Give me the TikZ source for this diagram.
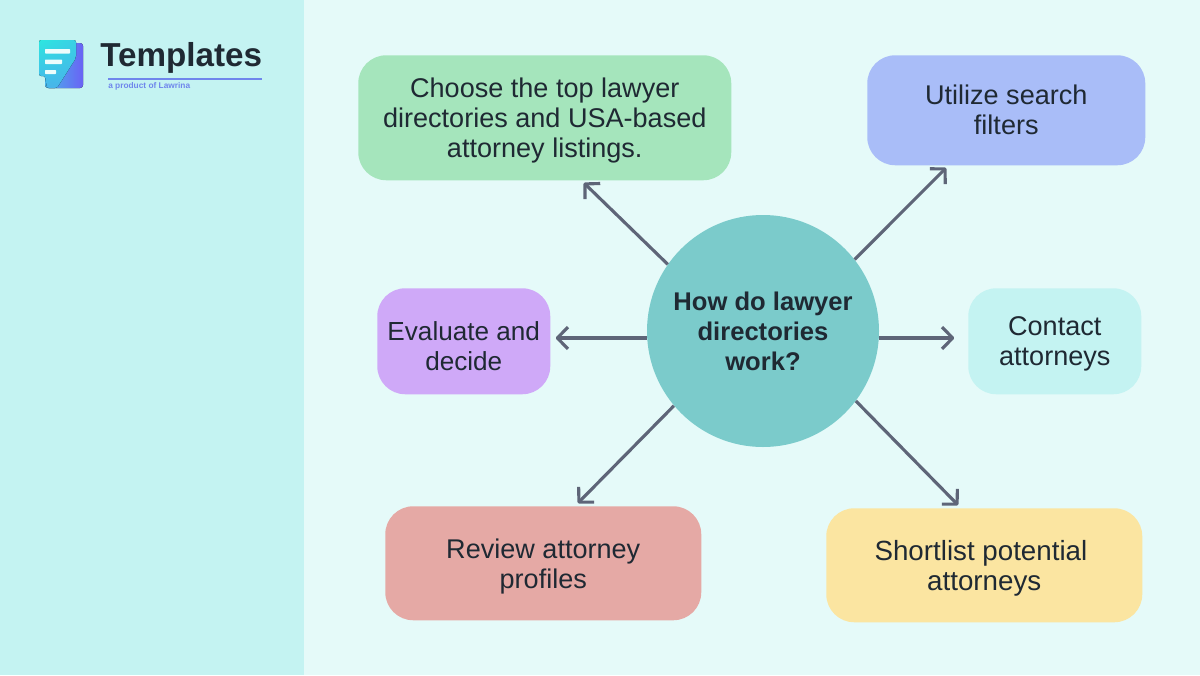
\documentclass[tikz,border=0pt]{standalone}
\usepackage{fontspec}
\setmainfont{Liberation Sans}
\usetikzlibrary{arrows.meta,shadings}
\definecolor{pagebg}{HTML}{E5FAF9}
\definecolor{sidebg}{HTML}{C4F3F2}
\definecolor{ink}{HTML}{1F2933}
\definecolor{arrowc}{HTML}{5E6578}
\definecolor{hubc}{HTML}{7BCBCB}
\definecolor{greenb}{HTML}{A5E5BC}
\definecolor{blueb}{HTML}{A9BDF8}
\definecolor{purpleb}{HTML}{CFA9F8}
\definecolor{redb}{HTML}{E5A9A5}
\definecolor{yellowb}{HTML}{FBE5A1}
\definecolor{logoa}{HTML}{2DE6E0}
\definecolor{logom}{HTML}{48B4EA}
\definecolor{logob}{HTML}{6A62F5}
\definecolor{logoline}{HTML}{6F86EC}
\pgfdeclarearrow{
  name=Chev,
  setup code={
    \pgfarrowssettipend{1pt}
    \pgfarrowssetlineend{-1pt}
    \pgfarrowssetvisualbackend{-8pt}
    \pgfarrowssetbackend{-8pt}
    \pgfarrowshullpoint{1pt}{0pt}
    \pgfarrowsupperhullpoint{-8pt}{8pt}
  },
  drawing code={
    \pgfsetdash{}{0pt}
    \pgfsetroundjoin
    \pgfsetbuttcap
    \pgfpathmoveto{\pgfpoint{-8pt}{8.2pt}}
    \pgfpathlineto{\pgfpoint{0pt}{0pt}}
    \pgfpathlineto{\pgfpoint{-8pt}{-8.2pt}}
    \pgfusepathqstroke
  },
  defaults={}
}
\tikzset{
  x=0.75pt,y=-0.75pt,
  card/.style={rounded corners=21pt,inner sep=0pt,align=center,text=ink,font=\fontsize{20.3}{22.5}\selectfont,anchor=north west},
  flow/.style={draw=arrowc,line width=2.35pt,-{Chev}},
}
\begin{document}
\begin{tikzpicture}
\useasboundingbox (0,0) rectangle (1200,675);
\fill[pagebg] (0,0) rectangle (1200,675);
\fill[sidebg] (0,0) rectangle (304,675);
% logo
\fill[rounded corners=2.2pt,left color=logom,right color=logob] (45,43) rectangle (83,88);
\fill[rounded corners=1.6pt,upper left=logoa,upper right=logoa!55!logom,lower left=logom,lower right=logom] (39,40) -- (76,40) -- (76,58) -- (57,88) -- (47,88) -- (45,76) -- (39,76) -- cycle;
\fill[white!92!logoa,rounded corners=0.5pt] (45,49) rectangle (70,53.5);
\fill[white!92!logoa,rounded corners=0.5pt] (45,59.5) rectangle (62,64);
\fill[white!92!logoa,rounded corners=0.5pt] (45,70) rectangle (56,74);
\node[anchor=west,inner sep=0pt,text=ink,font=\bfseries\fontsize{24.9}{26}\selectfont] (brand) at (100,58) {Templates};
\coordinate (ruleL) at (108,79);
\coordinate (ruleR) at (262,79);
\draw[logoline,line width=0.8pt] (ruleL) -- (ruleR);
\node[anchor=west,inner sep=0pt,text=logoline,font=\bfseries\fontsize{6.25}{8}\selectfont] (tag) at (108,86) {a product of Lawrina};
% hub
\node[circle,fill=hubc,minimum size=174pt,inner sep=0pt,align=center,text=ink,font=\bfseries\fontsize{19.2}{22.5}\selectfont] (hub) at (763,331) {How do lawyer\\directories\\work?};
% cards
\node[card,fill=greenb,minimum width=279.75pt,minimum height=93.75pt] (choose) at (358,55) {Choose the top lawyer\\directories and USA-based\\\smash{attorney listings.}};
\node[card,fill=blueb,minimum width=208.5pt,minimum height=82.5pt] (filters) at (867,55) {Utilize search\\filters};
\node[card,fill=purpleb,minimum width=129.75pt,minimum height=79.5pt,font=\fontsize{19.6}{22.5}\selectfont] (evaluate) at (377,288) {\rule{0pt}{22pt}Evaluate and\\decide};
\node[card,fill=sidebg,minimum width=129.75pt,minimum height=79.5pt] (contact) at (968,288) {Contact\\\smash{attorneys}};
\node[card,fill=redb,minimum width=237pt,minimum height=85.5pt] (review) at (385,506) {Review attorney\\\smash{profiles}};
\node[card,fill=yellowb,minimum width=237pt,minimum height=85.5pt,font=\fontsize{20.8}{22.5}\selectfont] (shortlist) at (826,508) {Shortlist potential\hspace*{5pt}\\\smash{attorneys}};
% arrow ends
\coordinate (tipUL) at (584,183);
\coordinate (tipUR) at (946,168);
\coordinate (tipR) at (954,338);
\coordinate (tipL) at (556,338);
\coordinate (tipDL) at (578,503);
\coordinate (tipDR) at (958,505);
\draw[flow] (hub.145.5) -- (tipUL);
\draw[flow] (hub.38) -- (tipUR);
\draw[flow] (hub.east |- tipR) -- (tipR);
\draw[flow] (hub.west |- tipL) -- (tipL);
\draw[flow] (hub.220.4) -- (tipDL);
\draw[flow] (hub.-37.3) -- (tipDR);
\end{tikzpicture}
\end{document}
